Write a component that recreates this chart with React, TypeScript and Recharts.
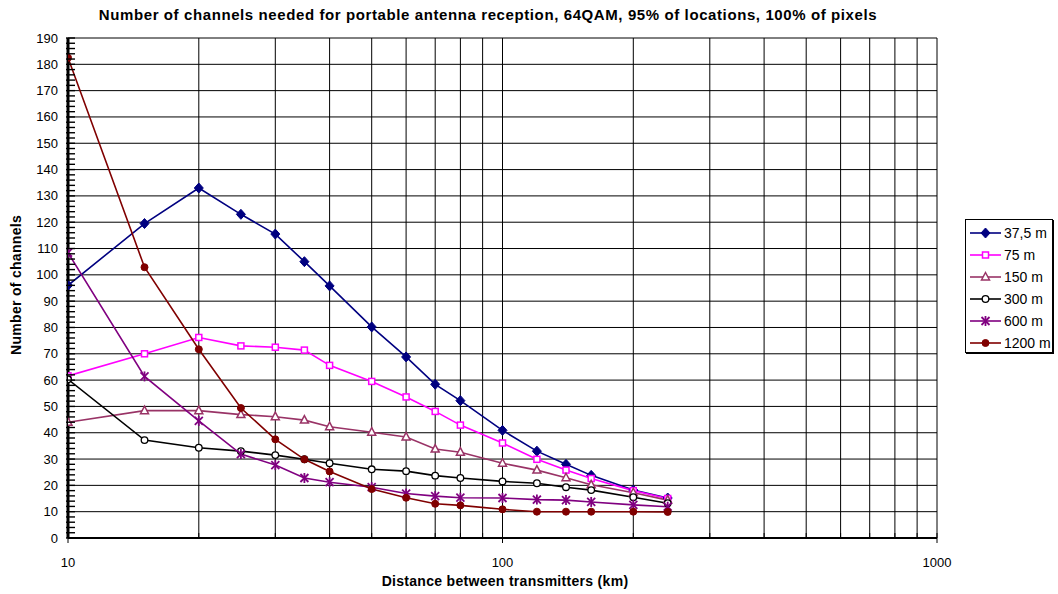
import React from 'react';
import { LineChart, Line, XAxis, YAxis, CartesianGrid } from 'recharts';

// distance between transmitters (km)
const distances = [10, 15, 20, 25, 30, 35, 40, 50, 60, 70, 80, 100, 120, 140, 160, 200, 240];

// number of channels per antenna height
const h37_5 = [96, 119.5, 133, 123, 115.5, 105, 95.8, 80.2, 68.8, 58.4, 52.2, 40.9, 33, 28, 23.8, 18.2, 15.2];
const h75 = [61.6, 70, 76.2, 73, 72.5, 71.4, 65.6, 59.5, 53.6, 48.1, 42.9, 36.1, 29.9, 25.8, 22.6, 18, 15];
const h150 = [44, 48.4, 48.4, 46.9, 46.1, 44.8, 42.3, 40.2, 38.4, 33.8, 32.6, 28.4, 25.8, 22.9, 20.2, 17.2, 14.4];
const h300 = [60.3, 37.2, 34.3, 33, 31.5, 29.9, 28.4, 26.1, 25.4, 23.7, 22.8, 21.5, 20.8, 19.3, 18.2, 15.5, 13.2];
const h600 = [108.4, 61.4, 44.5, 31.9, 27.7, 22.8, 21.2, 19.3, 16.9, 15.9, 15.3, 15.2, 14.6, 14.4, 13.7, 12.6, 11.9];
const h1200 = [182.5, 102.9, 71.7, 49.4, 37.5, 29.9, 25.3, 18.6, 15.3, 13, 12.4, 10.9, 10, 10, 10, 10, 9.9];

const seriesNames = ['37,5 m', '75 m', '150 m', '300 m', '600 m', '1200 m'];
const seriesKeys = ['h37_5', 'h75', 'h150', 'h300', 'h600', 'h1200'];
const seriesColors = ['#000080', '#FF00FF', '#993366', '#000000', '#800080', '#800000'];
const seriesMarkers = ['diamond', 'square', 'triangle', 'circle', 'star', 'dot'];

const xTicks = [10, 20, 30, 40, 50, 60, 70, 80, 90, 100, 200, 300, 400, 500, 600, 700, 800, 900, 1000];
const xLabels = [10, 100, 1000];
const yMajor = [0, 10, 20, 30, 40, 50, 60, 70, 80, 90, 100, 110, 120, 130, 140, 150, 160, 170, 180, 190];
const yMinor = Array.from({ length: 96 }, (_, i) => i * 2);

const data = distances.map((d, i) => ({
  d,
  h37_5: h37_5[i],
  h75: h75[i],
  h150: h150[i],
  h300: h300[i],
  h600: h600[i],
  h1200: h1200[i],
}));

const FONT = 'Arial, "Liberation Sans", sans-serif';

function Marker({ kind, cx, cy, color }: { kind: string; cx: number; cy: number; color: string }) {
  switch (kind) {
    case 'diamond':
      return <polygon points={`${cx},${cy - 5} ${cx + 4.5},${cy} ${cx},${cy + 5} ${cx - 4.5},${cy}`} fill={color} stroke={color} />;
    case 'square':
      return <rect x={cx - 3} y={cy - 3} width={6} height={6} fill="#fff" stroke={color} strokeWidth={1.5} />;
    case 'triangle':
      return <polygon points={`${cx},${cy - 4.5} ${cx + 4},${cy + 3} ${cx - 4},${cy + 3}`} fill="#fff" stroke={color} strokeWidth={1.5} />;
    case 'circle':
      return <circle cx={cx} cy={cy} r={3.3} fill="#fff" stroke={color} strokeWidth={1.3} />;
    case 'star':
      return (
        <g stroke={color} strokeWidth={1.8}>
          <line x1={cx - 4} y1={cy - 4} x2={cx + 4} y2={cy + 4} />
          <line x1={cx - 4} y1={cy + 4} x2={cx + 4} y2={cy - 4} />
          <line x1={cx} y1={cy - 5} x2={cx} y2={cy + 5} />
        </g>
      );
    default:
      return <circle cx={cx} cy={cy} r={3.5} fill={color} stroke={color} />;
  }
}

// y axis sits at x = 68; minor ticks point into the plot
const YTick = (props: any) => {
  const { y, payload } = props;
  const major = payload.value % 10 === 0;
  return (
    <g>
      <line x1={66} y1={y} x2={75} y2={y} stroke="#000" strokeWidth={1.4} />
      {major && (
        <text x={58} y={y + 4.5} textAnchor="end" fontSize={13} fontFamily={FONT} fill="#000">
          {payload.value}
        </text>
      )}
    </g>
  );
};

const XTick = (props: any) => {
  const { x, payload } = props;
  const major = xLabels.includes(payload.value);
  return (
    <g>
      <line x1={x} y1={major ? 543 : 538} x2={x} y2={533} stroke="#000" />
      {major && (
        <text x={x} y={567} textAnchor="middle" fontSize={13} fontFamily={FONT} fill="#000">
          {payload.value}
        </text>
      )}
    </g>
  );
};

export default function App() {
  return (
    <div style={{ position: 'absolute', left: 0, top: 0, width: 1058, height: 594, background: '#fff', fontFamily: FONT }}>
      <div
        style={{
          position: 'absolute',
          left: 0,
          top: 6,
          width: 976,
          textAlign: 'center',
          fontWeight: 'bold',
          fontSize: 15,
          letterSpacing: 0.6,
          whiteSpace: 'nowrap',
        }}
      >
        Number of channels needed for portable antenna reception, 64QAM, 95% of locations, 100% of pixels
      </div>
      <LineChart width={1058} height={594} data={data} margin={{ top: 38, right: 121, left: 0, bottom: 0 }}>
        <CartesianGrid stroke="#000" strokeWidth={1} verticalValues={xTicks} horizontalValues={yMajor} />
        <XAxis
          dataKey="d"
          type="number"
          scale="log"
          domain={[10, 1000]}
          ticks={xTicks}
          interval={0}
          height={56}
          tickSize={0}
          tickMargin={0}
          tick={<XTick />}
          tickLine={false}
          axisLine={{ stroke: '#000', strokeWidth: 2 }}
          allowDataOverflow
          label={{
            content: () => (
              <text x={505} y={586} textAnchor="middle" fontSize={14} letterSpacing={0.3} fontWeight="bold" fontFamily={FONT} fill="#000">
                Distance between transmitters (km)
              </text>
            ),
          }}
        />
        <YAxis
          type="number"
          domain={[0, 190]}
          ticks={yMinor}
          interval={0}
          width={68}
          tickSize={0}
          tickMargin={0}
          tick={<YTick />}
          tickLine={false}
          axisLine={{ stroke: '#000', strokeWidth: 3 }}
          label={{
            content: () => (
              <text x={21} y={285} transform="rotate(-90 21 285)" textAnchor="middle" fontSize={14} letterSpacing={0.3} fontWeight="bold" fontFamily={FONT} fill="#000">
                Number of channels
              </text>
            ),
          }}
        />
        {seriesKeys.map((k, si) => (
          <Line
            key={k}
            dataKey={k}
            name={seriesNames[si]}
            stroke={seriesColors[si]}
            strokeWidth={1.6}
            isAnimationActive={false}
            dot={(p: any) => (
              <Marker key={`${k}-${p.index}`} kind={seriesMarkers[si]} cx={p.cx} cy={p.cy} color={seriesColors[si]} />
            )}
            activeDot={false}
          />
        ))}
      </LineChart>
      <div
        style={{
          position: 'absolute',
          left: 965,
          top: 219,
          width: 88,
          height: 134,
          border: '1px solid #000',
          boxShadow: '1px 1px 0 #000',
          boxSizing: 'border-box',
          background: '#fff',
        }}
      >
        {seriesNames.map((n, si) => (
          <div key={n} style={{ position: 'absolute', left: 3, top: 4 + si * 22, height: 18, display: 'flex', alignItems: 'center' }}>
            <svg width={33} height={18}>
              <line x1={1} y1={9} x2={32} y2={9} stroke={seriesColors[si]} strokeWidth={1.6} />
              <Marker kind={seriesMarkers[si]} cx={16.5} cy={9} color={seriesColors[si]} />
            </svg>
            <span style={{ fontSize: 14, marginLeft: 2, whiteSpace: 'nowrap' }}>{n}</span>
          </div>
        ))}
      </div>
    </div>
  );
}
